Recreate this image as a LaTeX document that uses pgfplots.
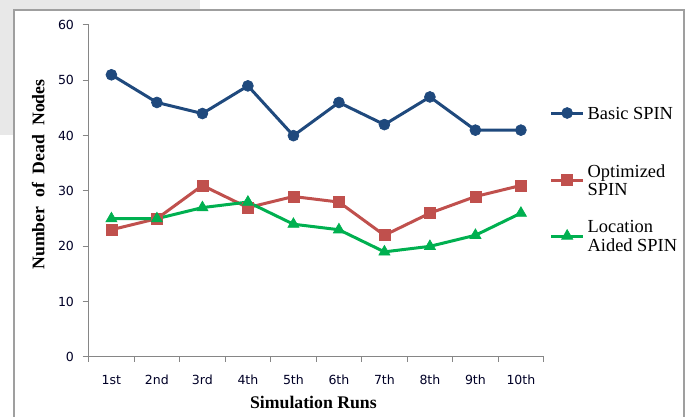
\documentclass[border=0pt]{standalone}
\usepackage{pgfplots}
\pgfplotsset{compat=1.18}
\usepackage{fontspec}
\setmainfont{Liberation Serif}
\newfontfamily\tickfont{DejaVu Sans}
\definecolor{sblue}{RGB}{31,73,125}
\definecolor{sred}{RGB}{192,80,77}
\definecolor{sgreen}{RGB}{0,176,80}
\definecolor{axgray}{RGB}{134,134,134}
\begin{document}
\begin{tikzpicture}
\path[use as bounding box] (0,0) rectangle (517.5pt,312.75pt);
\fill[gray!18] (0,305.25pt) rectangle (150pt,312.75pt);
\fill[gray!18] (0,211.5pt) rectangle (10.5pt,312.75pt);
\draw[gray!75, line width=1pt] (10.5pt,0) -- (10.5pt,305.25pt) -- (513pt,305.25pt) -- (513pt,0);
\begin{axis}[
  at={(66.5pt,45pt)}, anchor=south west,
  scale only axis, width=341.25pt, height=249pt,
  xmin=0.5, xmax=10.5, ymin=0, ymax=60,
  axis x line*=bottom, axis y line*=left,
  axis line style={axgray, line width=0.75pt},
  tick align=outside,
  tick style={axgray, line width=0.75pt},
  xtick={1,...,10},
  xticklabels={1st,2nd,3rd,4th,5th,6th,7th,8th,9th,10th},
  major x tick style={draw=none},
  minor xtick={0.5,1.5,...,10.5},
  minor tick length=3.75pt,
  ytick={0,10,...,60},
  major tick length=4.5pt,
  /pgf/number format/assume math mode=true,
  ticklabel style={font=\tickfont\fontsize{9.4}{11}\selectfont, text=black!85!blue},
  xticklabel style={yshift=-5.5pt},
  yticklabel style={xshift=-3pt},
  xlabel={Simulation Runs},
  ylabel={Number\ \ of\ \ Dead\ \ Nodes},
  xlabel style={font=\bfseries\fontsize{13.3}{15}\selectfont, at={(axis description cs:0.494,-0.1355)}, anchor=center},
  ylabel style={font=\bfseries\fontsize{13.3}{15}\selectfont, at={(axis description cs:-0.111,0.5497)}, anchor=center, rotate=0},
  legend cell align=left,
  legend style={at={(1.0132,0.8765)}, anchor=north west, draw=none, fill=none,
    inner sep=0pt, outer sep=0pt, column sep=2.25pt, row sep=0pt,
    nodes={inner sep=0pt, text depth=, anchor=west},
    font=\fontsize{13.8}{13.8}\selectfont},
  legend image code/.code={\draw[mark repeat=2,mark phase=2] plot coordinates {(0pt,0pt)(12pt,0pt)(24pt,0pt)};},
]
\addplot[sblue, line width=2.25pt, mark=*, mark size=4.1pt, mark options={line width=0.5pt, fill=sblue}]
  coordinates {(1,51)(2,46)(3,44)(4,49)(5,40)(6,46)(7,42)(8,47)(9,41)(10,41)};
\addlegendentry{\parbox[c][70.5pt][c]{85pt}{Basic SPIN}}
\addplot[sred, line width=2.25pt, mark=square*, mark size=4.1pt, mark options={line width=0.5pt, fill=sred}]
  coordinates {(1,23)(2,25)(3,31)(4,27)(5,29)(6,28)(7,22)(8,26)(9,29)(10,31)};
\addlegendentry{\parbox[c][30pt][c]{85pt}{Optimized\\SPIN}}
\addplot[sgreen, line width=2.25pt, mark=triangle*, mark size=4.8pt, mark options={line width=0.5pt, fill=sgreen}]
  coordinates {(1,25)(2,25)(3,27)(4,28)(5,24)(6,23)(7,19)(8,20)(9,22)(10,26)};
\addlegendentry{\parbox[c][54pt][c]{85pt}{Location\\Aided SPIN}}
\end{axis}
\end{tikzpicture}
\end{document}
